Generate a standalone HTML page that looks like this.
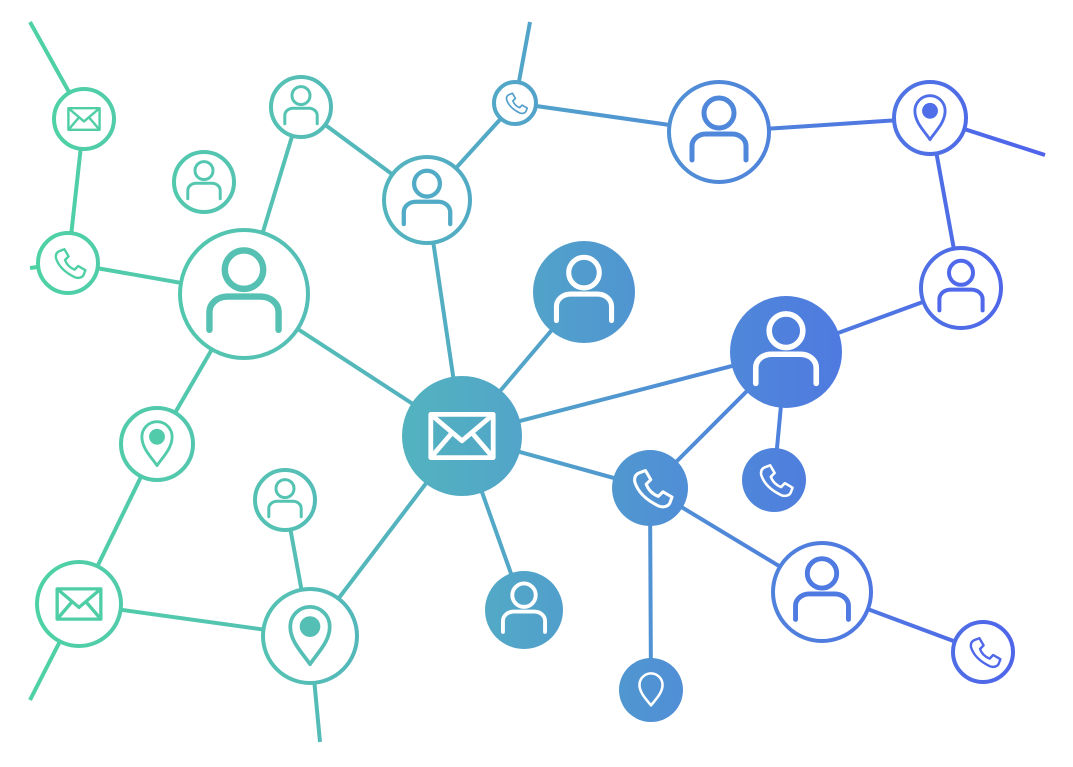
<!DOCTYPE html>
<html><head><meta charset="utf-8"><style>html,body{margin:0;padding:0;background:#fff}svg{display:block}</style></head>
<body>
<svg width="1073" height="767" viewBox="0 0 1073 767" xmlns="http://www.w3.org/2000/svg">
<defs>
<linearGradient id="g" gradientUnits="userSpaceOnUse" x1="30" y1="0" x2="1045" y2="0">
<stop offset="0" stop-color="#4ed2a4"/><stop offset="0.25" stop-color="#55c0b4"/><stop offset="0.45" stop-color="#52a9c6"/><stop offset="0.7" stop-color="#4f86da"/><stop offset="1" stop-color="#4f62ec"/>
</linearGradient>
<symbol id="person" viewBox="-50 -50 100 100" overflow="visible"><g fill="none" stroke="currentColor" stroke-width="5" stroke-linecap="round"><circle cx="0" cy="-19" r="15"/><path d="M-27,28 V14 A14,12 0 0 1 -13,2 H13 A14,12 0 0 1 27,14 V28"/></g></symbol>
<symbol id="mail" viewBox="-50 -50 100 100" overflow="visible"><g fill="none" stroke="currentColor" stroke-width="4" stroke-linejoin="round"><rect x="-26" y="-18" width="52" height="36"/><path d="M-26,-18 L0,4 L26,-18 M-26,18 L-8,-3 M26,18 L8,-3"/></g></symbol>
<symbol id="phone" viewBox="-50 -50 100 100" overflow="visible"><path fill="none" stroke="currentColor" stroke-width="4" stroke-linejoin="round" d="M-14,-20 l8,-3 7,12 -6,6 c3,8 8,13 16,16 l6,-6 12,7 -3,8 c-2,4 -8,6 -14,4 C-5,16 -16,5 -20,-8 c-1,-6 1,-10 6,-12z"/></symbol>
<symbol id="pin" viewBox="-50 -50 100 100" overflow="visible"><path fill="none" stroke="currentColor" stroke-width="4" stroke-linejoin="round" d="M0,30 C-8,18 -21,6 -21,-10 A21,21 0 1 1 21,-10 C21,6 8,18 0,30Z"/><circle cx="0" cy="-10" r="11" fill="currentColor"/></symbol>
<symbol id="pinw" viewBox="-50 -50 100 100" overflow="visible"><path fill="none" stroke="currentColor" stroke-width="4" stroke-linejoin="round" d="M0,24 C-8,14 -18,4 -18,-8 A18,18 0 1 1 18,-8 C18,4 8,14 0,24Z"/></symbol>
</defs>
<g stroke="url(#g)" stroke-width="4" fill="none">
<path d="M30,22 L84,119 L68,263 M30,268 L68,263 L244,294 L301,107 L427,200 L515,103 L530,22 M515,103 L719,132 L930,118 L1045,155 M930,118 L961,288 L786,352 M244,294 L462,436 M244,294 L157,444 L79,604 L30,700 M79,604 L310,636 L285,500 M310,636 L320,742 M427,200 L462,436 M584,292 L462,436 L786,352 L650,488 M786,352 L774,480 M462,436 L650,488 L651,690 M650,488 L822,592 L983,652 M462,436 L524,610 M462,436 L310,636"/>
</g>
<g stroke="url(#g)" stroke-width="4" fill="#fff">
<circle cx="84" cy="119" r="30"/><circle cx="301" cy="107" r="30"/><circle cx="204" cy="182" r="30"/><circle cx="68" cy="263" r="30"/><circle cx="244" cy="294" r="64"/><circle cx="427" cy="200" r="43"/><circle cx="515" cy="103" r="21"/><circle cx="719" cy="132" r="50"/><circle cx="930" cy="118" r="36"/><circle cx="961" cy="288" r="40"/><circle cx="157" cy="444" r="36"/><circle cx="285" cy="500" r="30"/><circle cx="79" cy="604" r="42"/><circle cx="310" cy="636" r="47"/><circle cx="822" cy="592" r="49"/><circle cx="983" cy="652" r="30"/>
</g>
<g fill="url(#g)">
<circle cx="584" cy="292" r="51"/><circle cx="786" cy="352" r="56"/><circle cx="462" cy="436" r="60"/><circle cx="524" cy="610" r="39"/><circle cx="650" cy="488" r="38"/><circle cx="774" cy="480" r="32"/><circle cx="651" cy="690" r="32"/>
</g>
<use href="#mail" x="54" y="89" width="60" height="60" color="#4fcea6"/>
<use href="#person" x="271" y="77" width="60" height="60" color="#55c3b2"/>
<use href="#person" x="174" y="152" width="60" height="60" color="#55c6b0"/>
<use href="#phone" x="38" y="233" width="60" height="60" color="#4fcfa6"/>
<use href="#person" x="180" y="230" width="128" height="128" color="#56c1b3"/>
<use href="#person" x="384" y="157" width="86" height="86" color="#52abc6"/>
<use href="#phone" x="494" y="82" width="42" height="42" color="#529fcc"/>
<use href="#person" x="669" y="82" width="100" height="100" color="#4f88da"/>
<use href="#pin" x="894" y="82" width="72" height="72" color="#4f6ee8"/>
<use href="#person" x="921" y="248" width="80" height="80" color="#4f69ea"/>
<use href="#pin" x="121" y="408" width="72" height="72" color="#52cbaa"/>
<use href="#person" x="255" y="470" width="60" height="60" color="#55c3b2"/>
<use href="#mail" x="37" y="562" width="84" height="84" color="#4fcea6"/>
<use href="#pin" x="263" y="589" width="94" height="94" color="#55bfb5"/>
<use href="#person" x="773" y="543" width="98" height="98" color="#4e7ae2"/>
<use href="#phone" x="953" y="622" width="60" height="60" color="#4f67ea"/>
<use href="#person" x="533" y="241" width="102" height="102" color="#fff"/>
<use href="#person" x="730" y="296" width="112" height="112" color="#fff"/>
<use href="#mail" x="402" y="376" width="120" height="120" color="#fff"/>
<use href="#person" x="485" y="571" width="78" height="78" color="#fff"/>
<use href="#phone" x="612" y="450" width="76" height="76" color="#fff"/>
<use href="#phone" x="742" y="448" width="64" height="64" color="#fff"/>
<use href="#pinw" x="619" y="658" width="64" height="64" color="#fff"/>
</svg>
</body></html>
